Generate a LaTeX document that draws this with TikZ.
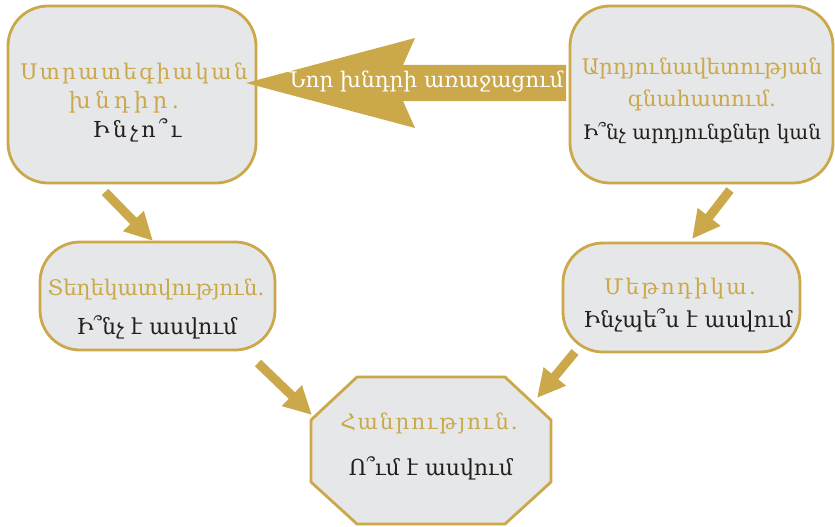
\documentclass[tikz,border=0pt]{standalone}
\usepackage{fontspec}
\setmainfont{DejaVu Serif}
\usetikzlibrary{arrows.meta}
\definecolor{gold}{RGB}{203,168,74}
\definecolor{boxgray}{RGB}{230,231,232}
\definecolor{txtdark}{RGB}{35,31,32}
\tikzset{
  box/.style={draw=gold, line width=2.8pt, fill=boxgray, rounded corners=40pt, inner sep=0pt},
  ttl/.style={text=gold, font=\fontsize{21.5}{24}\selectfont, align=center, inner sep=0pt},
  sub/.style={text=txtdark, font=\fontsize{22}{25}\selectfont, align=center, inner sep=0pt},
  flow/.style={draw=gold, line width=9pt, -{Triangle[width=27pt,length=28pt]}}
}
\begin{document}
\begin{tikzpicture}[x=1pt,y=-1pt]
\useasboundingbox (0,0) rectangle (835,527);
% box A
\node[box, minimum width=248pt, minimum height=177pt] (A) at (132,94.5) {};
% big arrow
\fill[gold] (246,83) coordinate (btip) -- (415,38) -- (403,65) -- (566,65) -- (566,101) -- (403,101) -- (415,128) -- cycle;
\node[text=white, font=\fontsize{21.5}{24}\selectfont, inner sep=0pt] (barrow) at (426,82) {Նոր խնդրի առաջացում};
% box B
\node[box, minimum width=263pt, minimum height=177pt] (B) at (701.5,94.5) {};
% box C, D
\node[box, minimum width=235pt, minimum height=108pt] (C) at (157.5,296) {};
\node[box, minimum width=237pt, minimum height=109pt] (D) at (681.5,297.5) {};
% octagon
\coordinate (o1) at (357,377);
\coordinate (o2) at (505,377);
\coordinate (o3) at (551,420);
\coordinate (o4) at (551,482);
\coordinate (o5) at (505,524);
\coordinate (o6) at (357,524);
\coordinate (o7) at (311,482);
\coordinate (o8) at (311,420);
\draw[draw=gold, line width=2.8pt, fill=boxgray, line join=miter] (o1) -- (o2) -- (o3) -- (o4) -- (o5) -- (o6) -- (o7) -- (o8) -- cycle;
\node (E) at (431,450) {};
% texts
\node[ttl, font=\fontsize{21.5}{24}\selectfont\addfontfeatures{LetterSpace=11}] (At1) at (134,73) {Ստրատեգիական};
\node[ttl, font=\fontsize{22.5}{24}\selectfont\addfontfeatures{LetterSpace=20}] (At2) at (124,102) {խնդիր.};
\node[sub, font=\fontsize{22}{25}\selectfont\addfontfeatures{LetterSpace=15}] (As) at (137,130) {Ինչո՞ւ};
\node[ttl] (Bt1) at (702,68) {Արդյունավետության};
\node[ttl] (Bt2) at (702,100) {գնահատում.};
\node[sub, font=\fontsize{20}{23}\selectfont] (Bs) at (702,133) {Ի՞նչ արդյունքներ կան};
\node[ttl] (Ct) at (156,289) {Տեղեկատվություն.};
\node[sub] (Cs) at (157,327) {Ի՞նչ է ասվում};
\node[ttl, font=\fontsize{21.5}{24}\selectfont\addfontfeatures{LetterSpace=11}] (Dt) at (680,289) {Մեթոդիկա.};
\node[sub] (Ds) at (688,320) {Ինչպե՞ս է ասվում};
\node[ttl, font=\fontsize{21.5}{24}\selectfont\addfontfeatures{LetterSpace=9}] (Et) at (429,423) {Հանրություն.};
\node[sub] (Es) at (431,468) {Ո՞ւմ է ասվում};
% small arrows
\coordinate (a1s) at (105,192); \coordinate (a1e) at (153,241);
\coordinate (a2s) at (730,190); \coordinate (a2e) at (692,239);
\coordinate (a3s) at (258,363); \coordinate (a3e) at (312,415);
\coordinate (a4s) at (575,352); \coordinate (a4e) at (537,398);
\draw[flow] (a1s) -- (a1e);
\draw[flow] (a2s) -- (a2e);
\draw[flow] (a3s) -- (a3e);
\draw[flow] (a4s) -- (a4e);
\end{tikzpicture}
\end{document}
